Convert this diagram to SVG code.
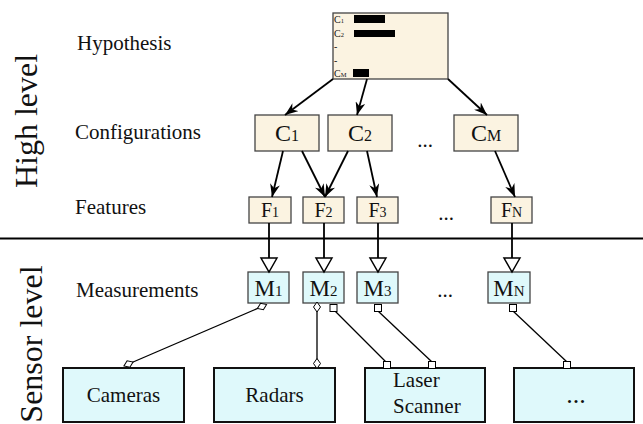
<svg xmlns="http://www.w3.org/2000/svg" width="643" height="424" viewBox="0 0 643 424">
<style>
text{font-family:"Liberation Serif","Times New Roman",serif;fill:#111}
.hi{fill:#FBF3E1;stroke:#444;stroke-width:1.3}
.lo{fill:#DFF9FB;stroke:#444;stroke-width:1.3}
.big{fill:#DFF9FB;stroke:#111;stroke-width:2}
.lbl{font-size:21px}
.side{font-size:32px}
.c{stroke:#000;stroke-width:1.8;fill:none}
.t{stroke:#000;stroke-width:1.3;fill:none}
.sq{fill:#fff;stroke:#000;stroke-width:1}
</style>
<defs>
<marker id="arr" markerUnits="userSpaceOnUse" markerWidth="14" markerHeight="10" viewBox="0 0 14 10" refX="13" refY="5" orient="auto"><path d="M0,0 L13,5 L0,10 L4,5 z" fill="#000"/></marker>
<marker id="tri" markerUnits="userSpaceOnUse" markerWidth="20" markerHeight="20" viewBox="-2 -2 20 20" refX="14" refY="8" orient="auto"><path d="M0,0 L14,8 L0,16 z" fill="#fff" stroke="#000" stroke-width="1.5"/></marker>
<marker id="dia" markerUnits="userSpaceOnUse" markerWidth="12" markerHeight="9" viewBox="-1 -1 12 9" refX="5" refY="3.5" orient="auto"><path d="M0,3.5 L5,0 L10,3.5 L5,7 z" fill="#fff" stroke="#000" stroke-width="1"/></marker>
</defs>

<g id="side-labels">
<text class="side" transform="translate(37,121) rotate(-90)" text-anchor="middle">High level</text>
<text class="side" transform="translate(42,344) rotate(-90)" text-anchor="middle">Sensor level</text>
</g>
<g id="row-labels">
<text class="lbl" x="77" y="50">Hypothesis</text>
<text class="lbl" x="75" y="139">Configurations</text>
<text class="lbl" x="75" y="214">Features</text>
<text class="lbl" x="76" y="297">Measurements</text>
<text class="lbl" x="425" y="147" text-anchor="middle">...</text>
<text class="lbl" x="446" y="220" text-anchor="middle">...</text>
<text class="lbl" x="445" y="297" text-anchor="middle">...</text>
</g>

<line id="separator" x1="0" y1="238.5" x2="643" y2="238.5" stroke="#000" stroke-width="1.8"/>

<g id="hypothesis">
<rect class="hi" x="333" y="13" width="115" height="66"/>
<text x="334" y="23" font-size="10">C<tspan font-size="6.5">1</tspan></text>
<rect x="354" y="15" width="31" height="8" fill="#000"/>
<text x="334" y="37" font-size="10">C<tspan font-size="6.5">2</tspan></text>
<rect x="354" y="30" width="41" height="7" fill="#000"/>
<text x="334" y="50" font-size="10">-</text>
<text x="334" y="64" font-size="10">-</text>
<text x="334" y="77" font-size="10">C<tspan font-size="6.5">M</tspan></text>
<rect x="353" y="69" width="16" height="8" fill="#000"/>
</g>

<g id="C1"><rect class="hi" x="255" y="115" width="64" height="36"/><text x="287" y="141" text-anchor="middle" font-size="24">C<tspan font-size="16">1</tspan></text></g>
<g id="C2"><rect class="hi" x="328" y="115" width="64" height="36"/><text x="360" y="141" text-anchor="middle" font-size="24">C<tspan font-size="16">2</tspan></text></g>
<g id="CM"><rect class="hi" x="454" y="115" width="64" height="36"/><text x="486" y="141" text-anchor="middle" font-size="24">C<tspan font-size="16">M</tspan></text></g>

<g id="F1"><rect class="hi" x="249" y="197" width="42" height="26"/><text x="270" y="217" text-anchor="middle" font-size="20">F<tspan font-size="14">1</tspan></text></g>
<g id="F2"><rect class="hi" x="303" y="197" width="41" height="26"/><text x="323.5" y="217" text-anchor="middle" font-size="20">F<tspan font-size="14">2</tspan></text></g>
<g id="F3"><rect class="hi" x="357" y="197" width="41" height="26"/><text x="377.5" y="217" text-anchor="middle" font-size="20">F<tspan font-size="14">3</tspan></text></g>
<g id="FN"><rect class="hi" x="491" y="197" width="41" height="26"/><text x="511.5" y="217" text-anchor="middle" font-size="20">F<tspan font-size="14">N</tspan></text></g>

<g id="M1"><rect class="lo" x="248" y="272" width="41" height="31"/><text x="268.5" y="296" text-anchor="middle" font-size="23">M<tspan font-size="15">1</tspan></text></g>
<g id="M2"><rect class="lo" x="303" y="272" width="41" height="31"/><text x="323.5" y="296" text-anchor="middle" font-size="23">M<tspan font-size="15">2</tspan></text></g>
<g id="M3"><rect class="lo" x="357" y="272" width="41" height="31"/><text x="377.5" y="296" text-anchor="middle" font-size="23">M<tspan font-size="15">3</tspan></text></g>
<g id="MN"><rect class="lo" x="488" y="272" width="42" height="31"/><text x="509" y="296" text-anchor="middle" font-size="23">M<tspan font-size="15">N</tspan></text></g>

<g id="cameras"><rect class="big" x="63" y="368" width="121" height="54"/><text class="lbl" x="123.5" y="402" text-anchor="middle">Cameras</text></g>
<g id="radars"><rect class="big" x="214" y="368" width="121" height="54"/><text class="lbl" x="274.5" y="402" text-anchor="middle">Radars</text></g>
<g id="laser"><rect class="big" x="365" y="368" width="120" height="54"/><text class="lbl" x="393" y="387">Laser</text><text class="lbl" x="393" y="413">Scanner</text></g>
<g id="others"><rect class="big" x="514" y="368" width="120" height="54"/><text x="576" y="403" text-anchor="middle" font-size="26">...</text></g>

<g id="connectors">
<line class="c" x1="333" y1="79" x2="285" y2="115" marker-end="url(#arr)"/>
<line class="c" x1="367" y1="79" x2="357" y2="115" marker-end="url(#arr)"/>
<line class="c" x1="448" y1="79" x2="487" y2="115" marker-end="url(#arr)"/>
<line class="c" x1="283" y1="151" x2="272" y2="197" marker-end="url(#arr)"/>
<line class="c" x1="302" y1="151" x2="325" y2="197" marker-end="url(#arr)"/>
<line class="c" x1="348" y1="151" x2="325" y2="197" marker-end="url(#arr)"/>
<line class="c" x1="367" y1="151" x2="377" y2="197" marker-end="url(#arr)"/>
<line class="c" x1="495" y1="151" x2="515" y2="197" marker-end="url(#arr)"/>
<line class="c" x1="269" y1="223" x2="269" y2="272" marker-end="url(#tri)"/>
<line class="c" x1="324" y1="223" x2="324" y2="272" marker-end="url(#tri)"/>
<line class="c" x1="378" y1="223" x2="378" y2="272" marker-end="url(#tri)"/>
<line class="c" x1="512" y1="223" x2="512" y2="272" marker-end="url(#tri)"/>
<line class="t" x1="262" y1="306.5" x2="128.5" y2="364" marker-start="url(#dia)" marker-end="url(#dia)"/>
<line class="t" x1="317" y1="307" x2="317" y2="363.5" marker-start="url(#dia)" marker-end="url(#dia)"/>
<line class="t" x1="335" y1="311" x2="386" y2="362"/>
<rect class="sq" x="330" y="304.5" width="7" height="7"/>
<rect class="sq" x="383.5" y="361.5" width="7" height="7"/>
<line class="t" x1="378" y1="311" x2="432" y2="362"/>
<rect class="sq" x="374.5" y="304.5" width="7" height="7"/>
<rect class="sq" x="428.5" y="361.5" width="7" height="7"/>
<line class="t" x1="513" y1="311" x2="567" y2="362"/>
<rect class="sq" x="509.5" y="304.5" width="7" height="7"/>
<rect class="sq" x="563.5" y="361.5" width="7" height="7"/>
</g>
</svg>
